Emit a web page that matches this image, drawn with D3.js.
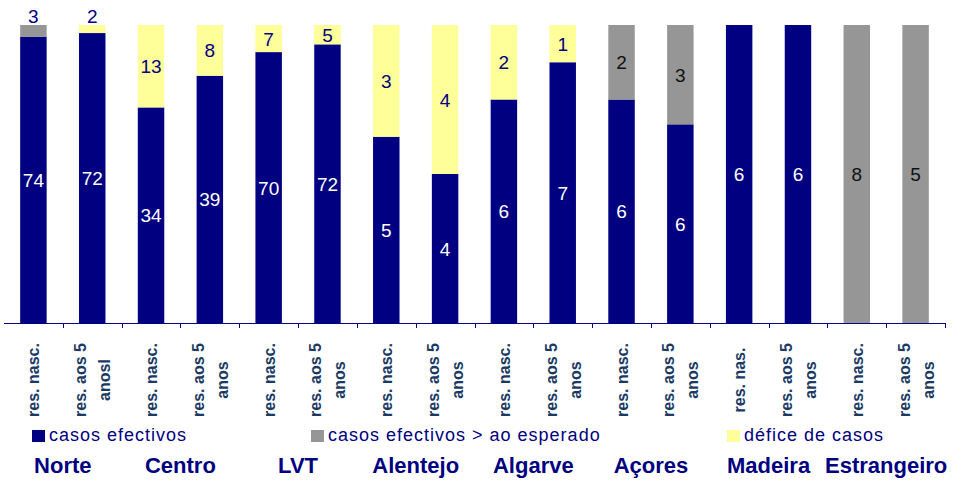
<!DOCTYPE html>
<html>
<head>
<meta charset="utf-8">
<script src="https://cdn.jsdelivr.net/npm/d3@7"></script>
<style>
    body { margin: 0; background: #fff; }
    svg { display: block; font-family: Arial, "Liberation Sans", sans-serif; }
</style>
</head>
<body>
<div id="main"></div>
<script>
const width = 964, height = 481;

// one entry per bar
const tickLabels = [
    ["res. nasc."], ["res. aos 5", "anosl"],
    ["res. nasc."], ["res. aos 5", "anos"],
    ["res. nasc."], ["res. aos 5", "anos"],
    ["res. nasc."], ["res. aos 5", "anos"],
    ["res. nasc."], ["res. aos 5", "anos"],
    ["res. nasc."], ["res. aos 5", "anos"],
    ["res. nas."], ["res. aos 5", "anos"],
    ["res. nasc."], ["res. aos 5", "anos"]
];
const regions = ["Norte", "Centro", "LVT", "Alentejo", "Algarve", "Açores", "Madeira", "Estrangeiro"];

const casosEfectivos = [74, 72, 34, 39, 70, 72, 5, 4, 6, 7, 6, 6, 6, 6, 0, 0];
const acimaEsperado  = [3, 0, 0, 0, 0, 0, 0, 0, 0, 0, 2, 3, 0, 0, 8, 5];
const deficeCasos    = [0, 2, 13, 8, 7, 5, 3, 4, 2, 1, 0, 0, 0, 0, 0, 0];

const seriesNames = ["casos efectivos", "casos efectivos > ao esperado", "défice de casos"];
const colors = ["#000080", "#969696", "#FFFF99"];
const labelColors = ["#ffffff", "#111111", "#000080"];

const data = casosEfectivos.map(function (d, i) {
    return {idx: i, a: d, b: acimaEsperado[i], c: deficeCasos[i]};
});

const svg = d3.select("#main").append("svg")
    .attr("width", width)
    .attr("height", height);

const x = d3.scaleBand()
    .domain(d3.range(data.length))
    .range([4, 945])
    .paddingInner(0.55)
    .paddingOuter(0.275);

const y = d3.scaleLinear().domain([0, 1]).range([323, 25]);

const stacked = d3.stack()
    .keys(["a", "b", "c"])
    .offset(d3.stackOffsetExpand)(data);

const layers = svg.selectAll(".layer")
    .data(stacked)
    .join("g")
    .attr("class", "layer")
    .attr("fill", function (d, i) { return colors[i]; });

layers.selectAll("rect")
    .data(function (d) { return d.filter(function (s) { return s[1] - s[0] > 0; }); })
    .join("rect")
    .attr("x", function (d) { return x(d.data.idx); })
    .attr("width", x.bandwidth())
    .attr("y", function (d) { return y(d[1]); })
    .attr("height", function (d) { return y(d[0]) - y(d[1]); });

// value labels
stacked.forEach(function (layer, li) {
    const key = layer.key;
    svg.append("g").selectAll("text")
        .data(layer.filter(function (s) { return s[1] - s[0] > 0; }))
        .join("text")
        .attr("x", function (d) { return x(d.data.idx) + x.bandwidth() / 2; })
        .attr("y", function (d) {
            const h = y(d[0]) - y(d[1]);
            // thin segments get their label above the bar
            if (h < 16) return y(1) - 2;
            return (y(d[0]) + y(d[1])) / 2 + 7;
        })
        .attr("text-anchor", "middle")
        .attr("font-size", 19)
        .attr("fill", function (d) {
            return (y(d[0]) - y(d[1]) < 16) ? "#000080" : labelColors[li];
        })
        .text(function (d) { return d.data[key]; });
});

// axis line + ticks between categories
const axis = svg.append("g").attr("stroke", "#000080").attr("stroke-width", 1);
axis.append("line")
    .attr("x1", 4).attr("x2", 945)
    .attr("y1", 323.5).attr("y2", 323.5);
axis.selectAll(".tick")
    .data(d3.range(1, data.length + 1))
    .join("line")
    .attr("class", "tick")
    .attr("x1", function (i) { return Math.round(4 + x.step() * i) + 0.5; })
    .attr("x2", function (i) { return Math.round(4 + x.step() * i) + 0.5; })
    .attr("y1", 323).attr("y2", 328);

// rotated category labels
const tl = svg.append("g").selectAll("text")
    .data(tickLabels)
    .join("text")
    .attr("transform", function (d, i) {
        return "translate(" + (x(i) + x.bandwidth() / 2) + ",380) rotate(-90)";
    })
    .attr("text-anchor", "middle")
    .attr("font-size", 16)
    .attr("font-weight", "bold")
    .attr("fill", "#1a3a64");
tl.selectAll("tspan")
    .data(function (d) {
        return d.map(function (t, j) { return {t: t, j: j, n: d.length}; });
    })
    .join("tspan")
    .attr("x", 0)
    .attr("y", function (d) { return 6 + (d.j - (d.n - 1) / 2) * 24; })
    .text(function (d) { return d.t; });

// legend
const legendX = [32, 311, 727];
const legend = svg.append("g").selectAll("g")
    .data(seriesNames)
    .join("g")
    .attr("transform", function (d, i) { return "translate(" + legendX[i] + ",430)"; });
legend.append("rect")
    .attr("width", 13).attr("height", 12)
    .attr("fill", function (d, i) { return colors[i]; });
legend.append("text")
    .attr("x", 17).attr("y", 11)
    .attr("font-size", 18)
    .attr("letter-spacing", 1)
    .attr("fill", "#000080")
    .text(function (d) { return d; });

// region names under each pair of bars
svg.append("g").selectAll("text")
    .data(regions)
    .join("text")
    .attr("x", function (d, i) { return 4 + x.step() * (2 * i + 1); })
    .attr("y", 473)
    .attr("text-anchor", "middle")
    .attr("font-size", 22)
    .attr("font-weight", "bold")
    .attr("fill", "#000080")
    .text(function (d) { return d; });
</script>
</body>
</html>
